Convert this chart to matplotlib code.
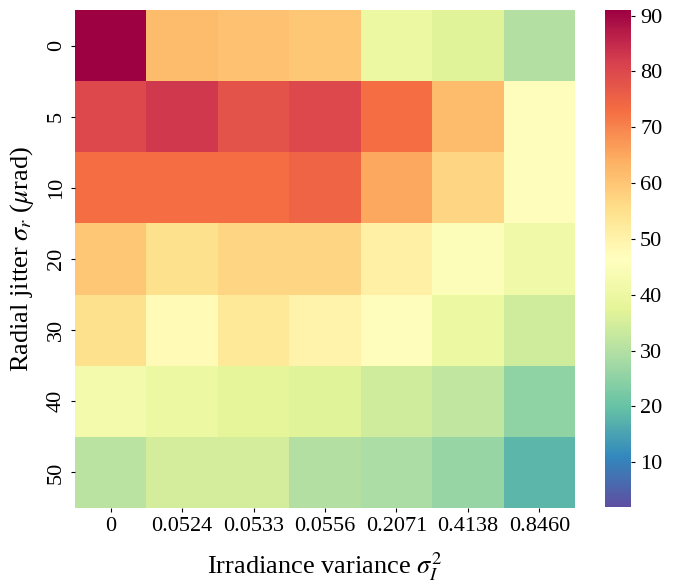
import numpy as np
import matplotlib
matplotlib.use("Agg")
import matplotlib.pyplot as plt

plt.rcParams['font.family'] = ['Liberation Serif', 'DejaVu Serif']
plt.rcParams['mathtext.fontset'] = 'stix'

x_labels = ["0", "0.0524", "0.0533", "0.0556", "0.2071", "0.4138", "0.8460"]
y_labels = ["0", "5", "10", "20", "30", "40", "50"]

row_0 = [91, 62, 61, 60, 40, 37, 30]
row_5 = [80, 83, 78, 80, 73, 62, 47]
row_10 = [73, 73, 73, 75, 65, 57, 47]
row_20 = [60, 55, 57, 57, 51, 45, 41]
row_30 = [55, 48, 53, 50, 47, 40, 34]
row_40 = [42, 40, 38, 37, 34, 32, 25]
row_50 = [31, 35, 35, 30, 29, 26, 18]

data = np.array([row_0, row_5, row_10, row_20, row_30, row_40, row_50], dtype=float)
vmin, vmax = 2, 91

fig = plt.figure(figsize=(6.83, 5.85), dpi=100)
W, H = 683, 585
ax = fig.add_axes([75 / W, 1 - 508 / H, 500 / W, 498 / H])
cax = fig.add_axes([605 / W, 1 - 507 / H, 26 / W, 497 / H])

im = ax.pcolormesh(data, cmap='Spectral_r', vmin=vmin, vmax=vmax)
ax.set_xlim(0, 7)
ax.set_ylim(7, 0)
ax.set_xticks(np.arange(7) + 0.5)
ax.set_xticklabels(x_labels, fontsize=16)
ax.set_yticks(np.arange(7) + 0.5)
ax.set_yticklabels(y_labels, fontsize=16, rotation=90, va='center')
for s in ax.spines.values():
    s.set_visible(False)
ax.tick_params(length=3, width=0.8)
ax.set_xlabel(r'Irradiance variance $\sigma_I^2$', fontsize=19, labelpad=10)
ax.set_ylabel(r'Radial jitter $\sigma_r$ ($\mu$rad)', fontsize=19, labelpad=8)

cb = fig.colorbar(im, cax=cax)
cb.outline.set_visible(False)
cb.set_ticks([10, 20, 30, 40, 50, 60, 70, 80, 90])
cb.ax.tick_params(labelsize=16, length=3, width=0.8)

fig.savefig('out.png', dpi=100)
